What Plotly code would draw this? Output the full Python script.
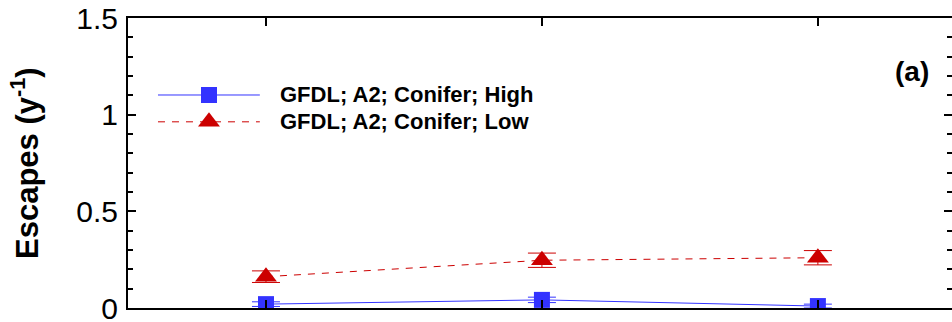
import plotly.graph_objects as go

# Scenario positions along the x axis
periods = [1, 2, 3]

# Escape rates (per year) with their error half-widths
high_vals = [0.02, 0.042, 0.01]
high_err = [0.012, 0.014, 0.01]
low_vals = [0.162, 0.247, 0.26]
low_err = [0.03, 0.037, 0.037]

series_names = ["GFDL; A2; Conifer; High", "GFDL; A2; Conifer; Low"]

X_RANGE = [0.5, 3.486]
Y_RANGE = [0, 1.5]

BLUE = "#3333ff"
RED = "#cc0000"
FONT = "Arial, Liberation Sans, sans-serif"


def frac_x(f):
    """Plot-area fraction -> x axis value."""
    return X_RANGE[0] + f * (X_RANGE[1] - X_RANGE[0])


def frac_y(f):
    """Plot-area fraction -> y axis value."""
    return Y_RANGE[0] + f * (Y_RANGE[1] - Y_RANGE[0])


fig = go.Figure()

fig.add_trace(go.Scatter(
    x=periods, y=high_vals, mode="lines+markers",
    line=dict(color=BLUE, width=1),
    marker=dict(symbol="square", size=16, color=BLUE, line=dict(width=0)),
    error_y=dict(type="data", array=high_err, visible=True,
                 color=BLUE, thickness=1, width=14),
    showlegend=False,
))
fig.add_trace(go.Scatter(
    x=periods, y=low_vals, mode="lines+markers",
    line=dict(color=RED, width=1, dash="7px,7px"),
    marker=dict(symbol="triangle-up", size=19, color=RED, line=dict(width=0)),
    error_y=dict(type="data", array=low_err, visible=True,
                 color=RED, thickness=1, width=14),
    showlegend=False,
))

# Hand-built legend placed by plot-area fraction
legend_line_frac = [0.0364, 0.160]
legend_marker_frac = 0.0983
legend_rows = [0.7345, 0.642]
legend_styles = [
    (dict(color=BLUE, width=1),
     dict(symbol="square", size=16, color=BLUE, line=dict(width=0))),
    (dict(color=RED, width=1, dash="7px,7px"),
     dict(symbol="triangle-up", size=19, color=RED, line=dict(width=0))),
]
for row, (line_style, marker_style) in zip(legend_rows, legend_styles):
    fig.add_trace(go.Scatter(
        x=[frac_x(f) for f in legend_line_frac], y=[frac_y(row)] * 2,
        mode="lines", line=line_style,
        showlegend=False, hoverinfo="skip",
    ))
    fig.add_trace(go.Scatter(
        x=[frac_x(legend_marker_frac)], y=[frac_y(row)],
        mode="markers", marker=marker_style,
        showlegend=False, hoverinfo="skip",
    ))

annotations = [
    dict(xref="paper", yref="paper", x=0.182, y=legend_rows[i],
         xanchor="left", yanchor="middle", showarrow=False,
         text="<b>%s</b>" % name,
         font=dict(family=FONT, size=22, color="black"))
    for i, name in enumerate(series_names)
]
annotations.append(dict(
    xref="paper", yref="paper", x=0.951, y=0.817,
    xanchor="center", yanchor="middle", showarrow=False,
    text="<b>(a)</b>", font=dict(family=FONT, size=28, color="black")))
annotations.append(dict(
    xref="paper", yref="paper", x=-0.125, y=0.5,
    xanchor="center", yanchor="middle", showarrow=False, textangle=-90,
    text="<b>Escapes (y<sup>-1</sup>)</b>",
    font=dict(family=FONT, size=31, color="black")))

fig.update_layout(
    template="none",
    width=952, height=322,
    margin=dict(l=128, r=0, t=18, b=14, autoexpand=False),
    paper_bgcolor="white", plot_bgcolor="white",
    font=dict(family=FONT, color="black"),
    xaxis=dict(
        range=X_RANGE, tickvals=periods, showticklabels=False,
        ticks="inside", ticklen=8, tickwidth=2, tickcolor="black",
        showline=True, linecolor="black", linewidth=2, mirror="ticks",
        showgrid=False, zeroline=False, automargin=False,
    ),
    yaxis=dict(
        range=Y_RANGE, tickmode="linear", tick0=0, dtick=0.5,
        ticks="inside", ticklen=8, tickwidth=2, tickcolor="black",
        minor=dict(dtick=0.1, ticks="inside", ticklen=5, tickwidth=1.5,
                   tickcolor="black", showgrid=False),
        tickfont=dict(family=FONT, size=30, color="black"),
        ticklabelstandoff=2, ticklabeloverflow="allow",
        showline=True, linecolor="black", linewidth=2, mirror="ticks",
        showgrid=False, zeroline=False, automargin=False,
    ),
    annotations=annotations,
)

fig.write_html("out.html")
